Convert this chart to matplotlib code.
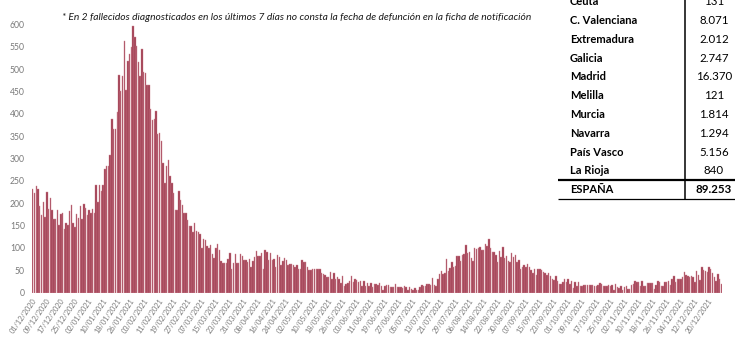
import numpy as np
import matplotlib
matplotlib.use("Agg")
import matplotlib.pyplot as plt
import matplotlib.transforms as mtransforms
import pandas as pd

plt.rcParams['font.family'] = ['Lato', 'DejaVu Sans']

# fallecidos diarios por fecha de defuncion, desde el 01/12/2020
start_date = '2020-12-01'
deaths_dec_mar = [231, 222, 238, 231, 194, 174, 204, 169, 225, 187,
                  211, 185, 164, 165, 186, 152, 176, 178, 143, 157,
                  151, 183, 196, 157, 146, 176, 166, 194, 165, 199,
                  190, 174, 186, 178, 187, 179, 241, 204, 241, 228,
                  242, 276, 284, 284, 309, 389, 366, 367, 405, 486,
                  452, 484, 564, 453, 518, 534, 550, 596, 572, 552,
                  515, 484, 545, 494, 491, 465, 465, 410, 387, 388,
                  407, 354, 357, 340, 290, 245, 284, 296, 260, 245,
                  224, 185, 184, 228, 208, 196, 178, 178, 163, 150,
                  149, 136, 155, 138, 135, 131, 100, 121, 117, 105]
deaths_mar_jun = [101, 107, 86, 78, 99, 110, 96, 71, 66, 66,
                  66, 75, 88, 53, 66, 86, 66, 67, 86, 81,
                  73, 73, 69, 75, 58, 71, 79, 93, 82, 82,
                  88, 52, 96, 90, 73, 88, 73, 75, 58, 84,
                  79, 61, 71, 78, 73, 63, 64, 64, 62, 58,
                  62, 54, 52, 73, 68, 69, 58, 51, 51, 52,
                  52, 52, 54, 54, 43, 41, 39, 34, 34, 47,
                  31, 43, 31, 34, 30, 22, 38, 15, 19, 21,
                  27, 37, 25, 31, 28, 24, 26, 16, 26, 16,
                  21, 15, 22, 12, 19, 19, 17, 22]
deaths_jun_sep = [15, 6, 15, 17, 17, 12, 12, 12, 19, 12,
                  12, 12, 10, 14, 12, 6, 12, 8, 6, 10,
                  6, 5, 12, 17, 14, 14, 19, 19, 17, 32,
                  17, 15, 30, 42, 49, 41, 43, 75, 49, 55,
                  69, 57, 60, 81, 81, 71, 84, 87, 106, 88,
                  91, 77, 71, 99, 97, 99, 103, 96, 96, 108,
                  105, 121, 100, 90, 90, 84, 69, 94, 79, 103,
                  78, 81, 71, 69, 88, 79, 84, 69, 73, 54,
                  57, 61, 57, 65, 58, 50, 43, 52, 40, 54,
                  54, 51, 46, 43, 40, 45, 37, 30, 28]
deaths_sep_dec = [37, 27, 20, 20, 23, 30, 25, 30, 20, 27,
                  10, 25, 15, 25, 15, 15, 17, 18, 17, 18,
                  17, 18, 14, 14, 17, 21, 20, 14, 14,
                  14, 17, 15, 17, 6, 19, 12, 11, 14, 6,
                  12, 15, 8, 9, 17, 20, 26, 25, 23, 15,
                  26, 15, 15, 21, 21, 21, 21, 8, 18, 26,
                  25, 15, 15, 25, 24, 26, 17, 30, 37, 25,
                  30, 30, 30, 36, 46, 40, 37, 36, 37, 34,
                  23, 49, 40, 28, 58, 51, 49, 47, 57, 52,
                  43, 34, 27, 41, 30, 20]

# tabla de fallecidos acumulados por comunidad
regions = ['Ceuta', 'C. Valenciana', 'Extremadura', 'Galicia', 'Madrid',
           'Melilla', 'Murcia', 'Navarra', 'País Vasco', 'La Rioja']
region_deaths = ['131', '8.071', '2.012', '2.747', '16.370',
                 '121', '1.814', '1.294', '5.156', '840']
total_name = 'ESPAÑA'
total_deaths = '89.253'

note = ('* En 2 fallecidos diagnosticados en los últimos 7 días no consta '
        'la fecha de defunción en la ficha de notificación')

deaths = np.array(deaths_dec_mar + deaths_mar_jun + deaths_jun_sep + deaths_sep_dec)
dates = pd.date_range(start_date, periods=len(deaths), freq='D')
days = np.arange(len(deaths))

fig = plt.figure(figsize=(7.35, 3.45), dpi=100)
ax = fig.add_axes([0.0433, 0.1516, 0.9393, 0.7774])
ax.bar(days, deaths, width=0.82, color='#9E3A4F', edgecolor='#CF8895', linewidth=0.3)
ax.set_xlim(-0.5, len(deaths) - 0.5)
ax.set_ylim(0, 600)
ax.set_yticks(np.arange(0, 601, 50))
tick_idx = days[::8]
ax.set_xticks(tick_idx)
ax.set_xticklabels(dates[tick_idx].strftime('%d/%m/%Y'), rotation=55, ha='right')
ax.tick_params(length=0, colors='#7A7A7A')
ax.tick_params(axis='y', labelsize=6.2, pad=5)
ax.tick_params(axis='x', labelsize=5.3, pad=3)
for s in ax.spines.values():
    s.set_visible(False)
shift = mtransforms.ScaledTranslation(5 / 100, 0, fig.dpi_scale_trans)
for lbl in ax.get_xticklabels():
    lbl.set_transform(lbl.get_transform() + shift)

# capa en pixeles para la nota y la tabla
tab = fig.add_axes([0, 0, 1, 1], zorder=5)
tab.set_xlim(0, 735)
tab.set_ylim(345, 0)
tab.axis('off')

tab.text(297, 17, note, fontsize=7.4, fontstyle='italic', color='#1A1A1A',
         ha='center', va='center')

row_y = 1.7 + 18.8 * np.arange(len(regions))
for y, name, val in zip(row_y, regions, region_deaths):
    tab.text(570, y, name, fontsize=8, fontweight='bold', color='black', ha='left', va='center')
    tab.text(714, y, val, fontsize=8.3, color='black', ha='center', va='center')
tab.text(570, 189.3, total_name, fontsize=8, fontweight='bold', color='black', ha='left', va='center')
tab.text(714, 189.3, total_deaths, fontsize=8.3, fontweight='bold', color='black', ha='center', va='center')
tab.plot([558, 735], [180, 180], color='black', lw=1.6, solid_capstyle='butt')
tab.plot([558, 735], [199.3, 199.3], color='black', lw=0.9, solid_capstyle='butt')
tab.plot([685, 685], [0, 199.3], color='black', lw=1.1, solid_capstyle='butt')

fig.savefig('out.png', dpi=100)
